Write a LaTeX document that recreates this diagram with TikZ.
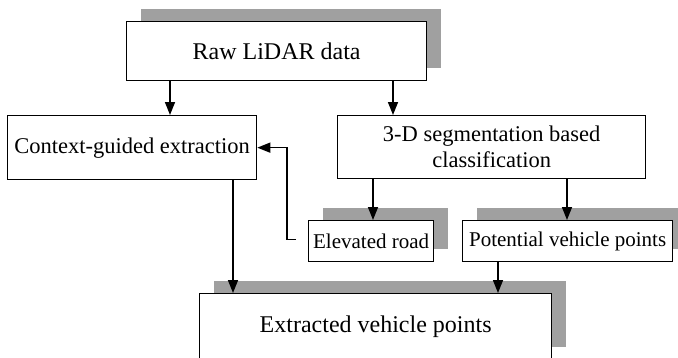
\documentclass[tikz,border=0pt]{standalone}
\usepackage{fontspec}
\setmainfont{Liberation Serif}
\usetikzlibrary{arrows.meta,shadows}
\definecolor{shadowgray}{RGB}{160,160,160}
\begin{document}
\begin{tikzpicture}[x=1pt,y=-1pt,
  box/.style={draw=black, line width=1.3pt, fill=white, inner sep=0pt, align=center, anchor=north west},
  shad/.style={drop shadow={shadow xshift=14pt, shadow yshift=13pt, fill=shadowgray, opacity=1, draw=none}},
  arr/.style={line width=1.5pt, -{Triangle[length=13pt,width=10pt]}},
  big/.style={font=\fontsize{24}{26}\selectfont},
  mid/.style={font=\fontsize{22.5}{26}\selectfont},
  small/.style={font=\fontsize{21}{24}\selectfont}
]
\clip (0,0) rectangle (678,357);
\fill[white] (0,0) rectangle (678,357);

\node[box,shad,big,minimum width=300pt,minimum height=59pt] (raw) at (126,21) {Raw LiDAR data};
\node[box,mid,minimum width=249pt,minimum height=64pt] (ctx) at (7,115) {Context-guided extraction};
\node[box,mid,minimum width=308pt,minimum height=63pt] (seg) at (337,115) {3-D segmentation based\\classification};
\node[box,shad,small,minimum width=125pt,minimum height=41pt] (er) at (308,220) {Elevated road};
\node[box,shad,small,minimum width=210pt,minimum height=41pt] (pv) at (462,220) {Potential vehicle points};
\node[box,shad,big,minimum width=352pt,minimum height=66pt] (ev) at (199,293) {Extracted vehicle points};

\draw[arr] ([xshift=44pt]raw.south west) coordinate (a1) -- (a1 |- ctx.north);
\draw[arr] ([xshift=267pt]raw.south west) coordinate (a2) -- (a2 |- seg.north);
\draw[arr] ([xshift=36pt]seg.south west) coordinate (a3) -- (a3 |- er.north);
\draw[arr] ([xshift=230pt]seg.south west) coordinate (a4) -- (a4 |- pv.north);
\draw[arr] ([xshift=226pt]ctx.south west) coordinate (a5) -- (a5 |- ev.north);
\draw[arr] ([xshift=36pt]pv.south west) coordinate (a6) -- (a6 |- ev.north);
\draw[arr, shorten <=12pt] ([yshift=1.5pt]er.west) -- ++(-21,0) |- (ctx.east);
\end{tikzpicture}
\end{document}
